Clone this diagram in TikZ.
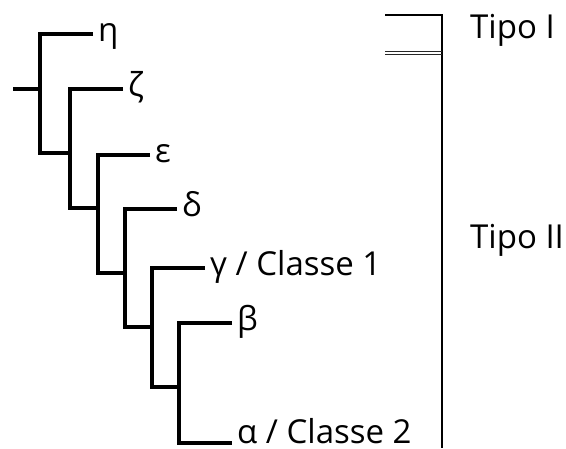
\documentclass[tikz,border=0pt]{standalone}
\usepackage{fontspec}
\setmainfont{Open Sans}
\begin{document}
\begin{tikzpicture}[x=1pt,y=-1pt,
  branch/.style={line width=3.3pt, line join=miter, line cap=butt},
  bracket/.style={line width=1.3pt},
  lbl/.style={anchor=base west, inner sep=0pt, xshift=5pt, yshift=-7pt,
    font=\fontsize{33}{40}\selectfont},
  grp/.style={anchor=base west, inner sep=0pt, font=\fontsize{33}{40}\selectfont}]
\useasboundingbox (0,0) rectangle (566,448);

% internal nodes of the cladogram (top tip, bottom join)
\coordinate (root) at (13,89);
\coordinate (aTop) at (40,34);   \coordinate (aBot) at (40,153);
\coordinate (bTop) at (70,89);   \coordinate (bBot) at (70,208);
\coordinate (cTop) at (98,155);  \coordinate (cBot) at (98,273);
\coordinate (dTop) at (125,209); \coordinate (dBot) at (125,327);
\coordinate (eTop) at (152,268); \coordinate (eBot) at (152,387);
\coordinate (fTop) at (179,323); \coordinate (fBot) at (179,443);
\coordinate (aMid) at (40,89);

% tip ends
\coordinate (tEta)   at (93,34);
\coordinate (tZeta)  at (123,89);
\coordinate (tEps)   at (150,155);
\coordinate (tDelta) at (177,209);
\coordinate (tGamma) at (205,268);
\coordinate (tBeta)  at (232,323);
\coordinate (tAlpha) at (232,443);

% branches
\draw[branch] (root) -- (aMid);
\draw[branch] (tEta) -- (aTop) -- (aBot) -- (aBot -| bTop);
\draw[branch] (tZeta) -- (bTop) -- (bBot) -- (bBot -| cTop);
\draw[branch] (tEps) -- (cTop) -- (cBot) -- (cBot -| dTop);
\draw[branch] (tDelta) -- (dTop) -- (dBot) -- (dBot -| eTop);
\draw[branch] (tGamma) -- (eTop) -- (eBot) -- (eBot -| fTop);
\draw[branch] (tBeta) -- (fTop) -- (fBot) -- (tAlpha);

% tip labels
\node[lbl] (lEta)   at (tEta)   {η};
\node[lbl] (lZeta)  at (tZeta)  {ζ};
\node[lbl] (lEps)   at (tEps)   {ε};
\node[lbl] (lDelta) at (tDelta) {δ};
\node[lbl] (lGamma) at (tGamma) {γ / Classe 1};
\node[lbl] (lBeta)  at (tBeta)  {β};
\node[lbl, yshift=7pt, text depth=0pt] (lAlpha) at (tAlpha) {α / Classe 2};

% bracket for the two types
\coordinate (bkTopL) at (385,15);
\coordinate (bkTopR) at (442,15);
\coordinate (bkEnd)  at (442,448);
\coordinate (bkMidL1) at (385,51.6);
\coordinate (bkMidR1) at (442,51.6);
\coordinate (bkMidL2) at (385,54);
\coordinate (bkMidR2) at (442,54);
\draw[bracket] (bkTopL) -- (bkTopR) -- (bkEnd);
\draw[line width=0.9pt, black!85] (bkMidL1) -- (bkMidR1);
\draw[line width=0.9pt, black!85] (bkMidL2) -- (bkMidR2);

\node[grp] (tipo1) at (470,38) {Tipo I};
\node[grp] (tipo2) at (470,248) {Tipo II};
\end{tikzpicture}
\end{document}
